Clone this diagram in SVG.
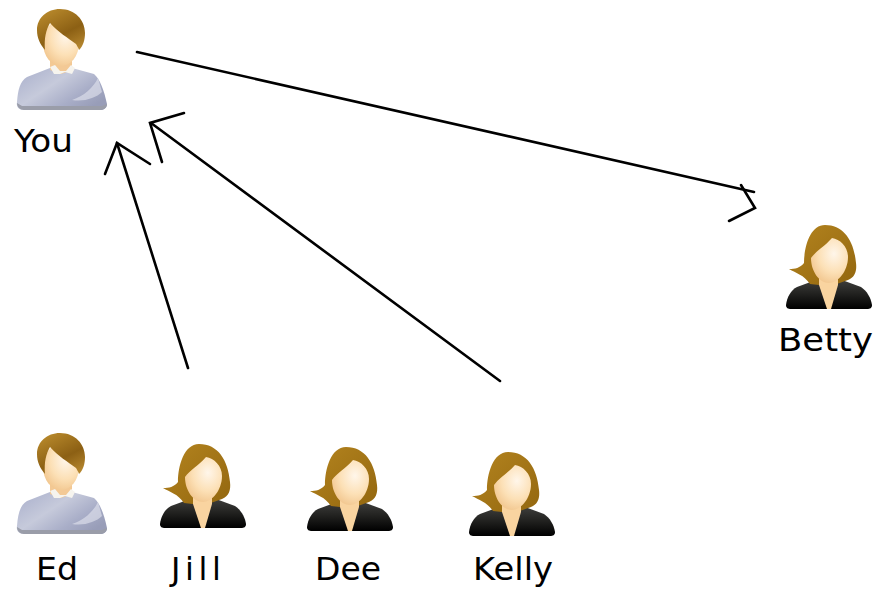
<svg xmlns="http://www.w3.org/2000/svg" width="875" height="589" viewBox="0 0 875 589">
<style>
.lbl{font-family:"DejaVu Sans","Liberation Sans",sans-serif;font-size:32px;fill:#000}
.ln{fill:none;stroke:#000;stroke-width:2.6;stroke-linecap:round;stroke-linejoin:miter}
</style>
<defs>
<linearGradient id="hairM" x1="0.2" y1="0" x2="0.8" y2="1"><stop offset="0" stop-color="#b98a2c"/><stop offset="0.6" stop-color="#8c6014"/><stop offset="1" stop-color="#b5862e"/></linearGradient>
<radialGradient id="skin" cx="0.62" cy="0.35" r="0.75"><stop offset="0" stop-color="#fff6ea"/><stop offset="0.55" stop-color="#fce0b6"/><stop offset="1" stop-color="#f0c288"/></radialGradient>
<linearGradient id="shirt" x1="0" y1="0" x2="1" y2="0.7"><stop offset="0" stop-color="#a8aecb"/><stop offset="0.45" stop-color="#c6cadb"/><stop offset="0.75" stop-color="#a9aec8"/><stop offset="1" stop-color="#989db8"/></linearGradient>
<linearGradient id="jacket" x1="0" y1="0" x2="0" y2="1"><stop offset="0" stop-color="#3e3e3c"/><stop offset="0.45" stop-color="#232321"/><stop offset="1" stop-color="#000"/></linearGradient>
<linearGradient id="hairW" x1="0" y1="0" x2="1" y2="1"><stop offset="0" stop-color="#b4841f"/><stop offset="1" stop-color="#93670f"/></linearGradient>
<g id="man">
<path d="M17 102C18 90 20 81 27 77L50 68H72L94 74C100 79 104 90 107 104C107 108 104 110 100 110H24C19 110 16 107 17 102Z" fill="url(#shirt)"/>
<path d="M17 103C17 107 20 110 24 110H100C104 110 107 107 107 104L102 106H22Z" fill="#9a9da9"/>
<path d="M72 100C84 96 93 88 98 78L102 92C96 98 84 102 72 100Z" fill="#e4e6f0" opacity="0.6"/>
<path d="M50 56H72V70L61 74L50 70Z" fill="#f3c995"/>
<path d="M50 67L55 65L60 71L66 71L71 65L75 68L72 74L65 72L60 74L54 74Z" fill="#f6f4ee"/>
<ellipse cx="61" cy="43" rx="18" ry="23" fill="url(#skin)"/>
<path d="M60 9C75 9 85 20 85 33C85 40 83 46 79 50C78 47 77 46 76 44C68 38 58 32 50 23C46 30 44 38 45 50C40 44 37 38 37 30C37 18 47 9 60 9Z" fill="url(#hairM)"/>
</g>
<g id="woman">
<path d="M0 80C1 72 5 65 11 62L30 55H56L75 62C81 66 85 73 86 80C86 83 84 84 81 84H5C2 84 0 83 0 80Z" fill="url(#jacket)"/>
<path d="M39 0C58 0 68 16 70 38C71 46 69 52 62 55L48 60H33L24 59C18 50 10 48 3 44C9 44 14 43 18 38C18 22 24 0 39 0Z" fill="url(#hairW)"/>
<path d="M33 48H52V60L45 84H41L33 60Z" fill="#f9d4a0"/>
<path d="M46 13C38 22 30 26 25 33C25 46 33 58 43 58C52 58 62 46 62 32C62 22 54 14 46 13Z" fill="url(#skin)"/>
</g>
</defs>
<rect width="875" height="589" fill="#fff"/>
<g id="connectors">
<path class="ln" d="M137 52L754 192"/>
<path class="ln" d="M741 185L755 208L729 221"/>
<path class="ln" d="M188 368L117 143"/>
<path class="ln" d="M105 174L117 143L150 164"/>
<path class="ln" d="M500 381L151 123"/>
<path class="ln" d="M184 113L150 123L162 162"/>
</g>
<g id="you"><use href="#man"/><text class="lbl" x="14" y="152" textLength="59" lengthAdjust="spacingAndGlyphs">You</text></g>
<g id="ed"><use href="#man" y="424"/><text class="lbl" x="36" y="580" textLength="42" lengthAdjust="spacingAndGlyphs">Ed</text></g>
<g id="jill"><use href="#woman" x="160" y="444"/><text class="lbl" x="171" y="580" textLength="50">Jill</text></g>
<g id="dee"><use href="#woman" x="307" y="447"/><text class="lbl" x="315" y="580" textLength="66" lengthAdjust="spacingAndGlyphs">Dee</text></g>
<g id="kelly"><use href="#woman" x="469" y="452"/><text class="lbl" x="473" y="580" textLength="80" lengthAdjust="spacingAndGlyphs">Kelly</text></g>
<g id="betty"><use href="#woman" x="786" y="225"/><text class="lbl" x="778" y="351" textLength="95" lengthAdjust="spacingAndGlyphs">Betty</text></g>
</svg>
